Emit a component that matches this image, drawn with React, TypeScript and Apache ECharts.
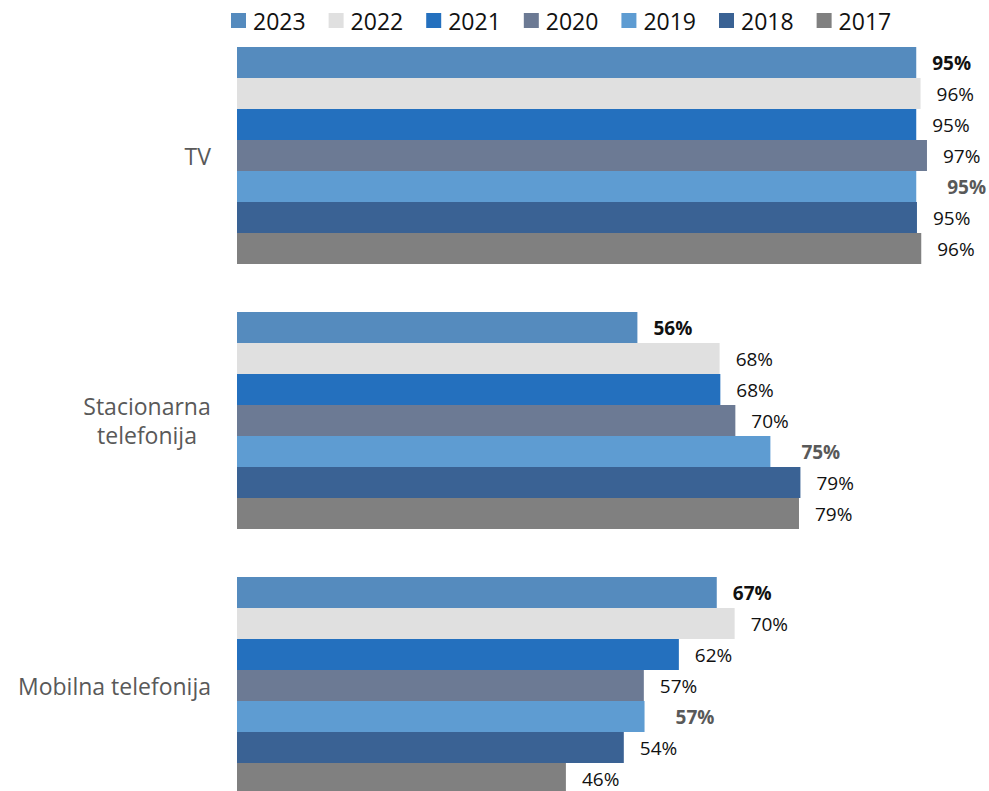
import React, { useEffect, useRef } from "react";
import * as echarts from "echarts";

const categories = ["TV", "Stacionarna telefonija", "Mobilna telefonija"];
const years = ["2023", "2022", "2021", "2020", "2019", "2018", "2017"];
const v2023 = [95.0, 56.0, 67.1];
const v2022 = [95.6, 67.5, 69.6];
const v2021 = [95.0, 67.6, 61.8];
const v2020 = [96.5, 69.7, 56.9];
const v2019 = [95.0, 74.6, 57.0];
const v2018 = [95.1, 78.8, 54.1];
const v2017 = [95.7, 78.6, 46.0];
const seriesValues = [v2023, v2022, v2021, v2020, v2019, v2018, v2017];
const colors = ["#558BBE", "#E0E0E0", "#2470BE", "#6C7A94", "#5E9CD2", "#3A6294", "#808080"];

const FONT = "'Open Sans', 'Noto Sans', sans-serif";

export default function App() {
  const ref = useRef<HTMLDivElement>(null);
  useEffect(() => {
    const chart = echarts.init(ref.current!, undefined, { renderer: "svg" });
    chart.setOption({
      animation: false,
      color: colors,
      legend: {
        data: years,
        top: 4,
        left: 226,
        icon: "rect",
        itemWidth: 15,
        itemHeight: 15,
        itemGap: 23,
        textStyle: { fontFamily: FONT, fontSize: 23, color: "#111111", padding: [0, 0, 0, 2] },
      },
      grid: { left: 237, top: 23, width: 715, height: 795, containLabel: false },
      xAxis: {
        type: "value",
        min: 0,
        max: 100,
        show: false,
      },
      yAxis: {
        type: "category",
        data: categories,
        inverse: true,
        axisLine: { show: false },
        axisTick: { show: false },
        axisLabel: {
          margin: 26,
          fontFamily: FONT,
          fontSize: 23,
          color: "#595959",
          lineHeight: 29,
          formatter: (v: string) =>
            v === "Stacionarna telefonija" ? "{c|Stacionarna}\n{c|telefonija}" : v,
          rich: {
            c: { width: 128, align: "center", fontFamily: FONT, fontSize: 23, color: "#595959", lineHeight: 29 },
          },
        },
      },
      series: years.map((y, i) => ({
        name: y,
        type: "bar",
        data: seriesValues[i],
        barWidth: 31,
        barGap: "0%",
        itemStyle: { color: colors[i] },
        label: {
          show: true,
          position: "right",
          distance: y === "2019" ? 31 : 16,
          fontFamily: FONT,
          fontSize: 19,
          fontWeight: y === "2023" || y === "2019" ? "bold" : "normal",
          color: y === "2019" ? "#595959" : "#111111",
          formatter: (p: any) => Math.round(p.value) + "%",
        },
      })),
    });
    return () => chart.dispose();
  }, []);
  return (
    <div style={{ position: "fixed", left: 0, top: 0, width: 989, height: 791, overflow: "hidden", background: "#fff" }}>
      <div ref={ref} style={{ width: 989, height: 830 }} />
    </div>
  );
}
